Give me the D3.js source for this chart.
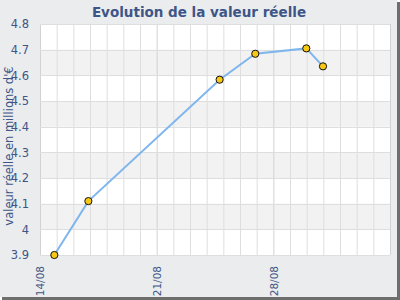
<!DOCTYPE html>
<html>
<head>
<meta charset="utf-8">
<title>Evolution de la valeur réelle</title>
<style>
  body { margin: 0; background: #fff; }
  svg { display: block; font-family: "DejaVu Sans", Verdana, sans-serif; }
</style>
</head>
<body>
<script src="https://cdn.jsdelivr.net/npm/d3@7/dist/d3.min.js"></script>
<script>
// chart data
const dates = ["14/08/2023 20:40", "16/08/2023 21:40", "24/08/2023 18:40",
               "26/08/2023 22:00", "29/08/2023 23:30", "30/08/2023 23:30"];
const values = [3.90, 4.11, 4.583, 4.684, 4.705, 4.635];
const yTicks = [3.9, 4, 4.1, 4.2, 4.3, 4.4, 4.5, 4.6, 4.7, 4.8];
const xStart = "14/08/2023";
const xEnd = "04/09/2023";
const title = "Evolution de la valeur réelle";
const yLabel = "valeur réelle en millions d'€";

const W = 400, H = 300;
const m = { left: 40, right: 10, top: 24, bottom: 45 };

const parseT = d3.timeParse("%d/%m/%Y %H:%M");
const parseD = d3.timeParse("%d/%m/%Y");
const data = dates.map((d, i) => ({ t: parseT(d), v: values[i] }));

const svg = d3.select("body").append("svg")
  .attr("width", W).attr("height", H);

// frame with shadow
svg.append("rect").attr("x", 2).attr("y", 2).attr("width", W - 2).attr("height", H - 2)
  .attr("fill", "#6e6e6e");
svg.append("rect").attr("x", 0).attr("y", 0).attr("width", W - 3).attr("height", H - 3)
  .attr("fill", "#ebecee");

const x = d3.scaleTime()
  .domain([parseD(xStart), parseD(xEnd)])
  .range([m.left, W - m.right]);
const y = d3.scaleLinear()
  .domain([3.9, 4.8])
  .range([H - m.bottom, m.top]);

// plot background + alternating bands
svg.append("rect")
  .attr("x", m.left).attr("y", m.top)
  .attr("width", W - m.left - m.right).attr("height", H - m.top - m.bottom)
  .attr("fill", "#fff");
svg.append("g").selectAll("rect")
  .data(yTicks.slice(0, -1).filter((d, i) => i % 2 === 1))
  .join("rect")
  .attr("x", m.left)
  .attr("width", W - m.left - m.right)
  .attr("y", d => y(d + 0.1))
  .attr("height", d => y(d) - y(d + 0.1))
  .attr("fill", "#f2f2f2");

// grid
const days = d3.timeDay.range(parseD(xStart), d3.timeDay.offset(parseD(xEnd), 1));
svg.append("g").selectAll("line")
  .data(days)
  .join("line")
  .attr("x1", d => x(d) + 0.5).attr("x2", d => x(d) + 0.5)
  .attr("y1", m.top).attr("y2", H - m.bottom)
  .attr("stroke", (d, i) => i % 7 === 0 ? "#d2d2d2" : "#dedede");
svg.append("g").selectAll("line")
  .data(yTicks)
  .join("line")
  .attr("x1", m.left).attr("x2", W - m.right)
  .attr("y1", d => Math.round(y(d)) + 0.5).attr("y2", d => Math.round(y(d)) + 0.5)
  .attr("stroke", "#dedede");

// axes
const yAxis = d3.axisLeft(y).tickValues(yTicks).tickSize(0).tickPadding(11)
  .tickFormat(d3.format("~g"));
const gy = svg.append("g").attr("transform", `translate(${m.left},0)`).call(yAxis);
gy.select(".domain").remove();
gy.selectAll("text").attr("fill", "#3d5687").style("font-size", "11.5px")
  .style("font-family", "DejaVu Sans, sans-serif");

const xAxis = d3.axisBottom(x)
  .tickValues(d3.timeDay.range(parseD(xStart), parseD(xEnd), 7))
  .tickFormat(d3.timeFormat("%d/%m")).tickSize(0);
const gx = svg.append("g").attr("transform", `translate(0,${H - m.bottom})`).call(xAxis);
gx.select(".domain").remove();
gx.selectAll("text")
  .attr("fill", "#3d5687").style("font-size", "10.5px")
  .style("font-family", "DejaVu Sans, sans-serif")
  .attr("transform", "rotate(-90)")
  .attr("text-anchor", "end")
  .attr("x", -11).attr("y", 0).attr("dy", "0.35em");

// line + markers
svg.append("path")
  .datum(data)
  .attr("fill", "none")
  .attr("stroke", "#7fb6ee")
  .attr("stroke-width", 2)
  .attr("d", d3.line().x(d => x(d.t)).y(d => y(d.v)));
svg.append("g").selectAll("circle")
  .data(data)
  .join("circle")
  .attr("cx", d => x(d.t)).attr("cy", d => y(d.v))
  .attr("r", 3.6)
  .attr("fill", "#f7c815")
  .attr("stroke", "#111")
  .attr("stroke-width", 1);

// title and y label
svg.append("text")
  .attr("x", 199).attr("y", 17)
  .attr("text-anchor", "middle")
  .attr("fill", "#3d5687")
  .style("font-size", "13.5px").style("font-weight", "bold")
  .text(title);
svg.append("text")
  .attr("transform", "translate(13,146) rotate(-90)")
  .attr("text-anchor", "middle")
  .attr("fill", "#3d5687")
  .style("font-size", "11.5px")
  .text(yLabel);
</script>
</body>
</html>
